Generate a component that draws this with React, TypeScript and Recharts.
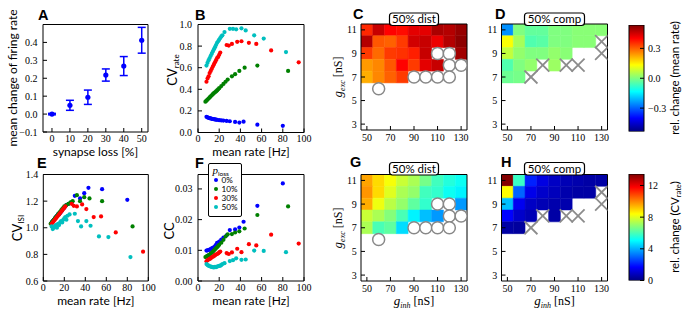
import React from 'react';
import { ComposedChart, Scatter, Bar, XAxis, YAxis, ReferenceArea, ErrorBar, Legend, Label } from 'recharts';

const PAGE_W = 685;
const PAGE_H = 312;

// A: mean change of firing rate vs synapse loss
const synapseLoss = [0, 10, 20, 30, 40, 50];
const rateChange = [0.0, 0.049, 0.094, 0.218, 0.268, 0.412];
const rateChangeErr = [0.004, 0.028, 0.04, 0.034, 0.053, 0.072];

// B, E, F: one point per network, grouped by p_loss
const lossLabels = ['0%', '10%', '30%', '50%'];
const lossColors = ['#0000ff', '#008000', '#ff0000', '#00bfbf'];

const rate0 = [8, 9, 10, 11, 12, 13, 14, 15, 16, 17, 18, 20, 22, 24, 27, 30, 35, 39, 43, 56, 80];
const cvRate0 = [0.145, 0.14, 0.136, 0.133, 0.13, 0.127, 0.125, 0.123, 0.121, 0.119, 0.117, 0.114, 0.112, 0.11, 0.107, 0.104, 0.098, 0.092, 0.1, 0.072, 0.062];
const cvIsi0 = [1.04, 1.05, 1.06, 1.07, 1.08, 1.09, 1.1, 1.1, 1.11, 1.12, 1.13, 1.15, 1.17, 1.18, 1.19, 1.24, 1.22, 1.26, 1.3, 1.29, 1.21];
const cc0 = [0.0099, 0.01, 0.0101, 0.0102, 0.0104, 0.0106, 0.0108, 0.011, 0.0113, 0.0118, 0.0124, 0.0128, 0.0135, 0.0141, 0.0149, 0.0166, 0.0168, 0.0174, 0.0193, 0.0245, 0.0318];

const rate10 = [7, 8, 9, 10, 11, 12, 13, 14, 15, 16, 17, 18, 19, 20, 22, 24, 26, 28, 32, 35, 39, 44, 56, 85];
const cvRate10 = [0.285, 0.295, 0.305, 0.315, 0.325, 0.335, 0.345, 0.355, 0.365, 0.372, 0.38, 0.39, 0.4, 0.41, 0.43, 0.45, 0.47, 0.49, 0.52, 0.54, 0.57, 0.6, 0.62, 0.57];
const cvIsi10 = [1.03, 1.04, 1.05, 1.06, 1.07, 1.08, 1.09, 1.1, 1.11, 1.12, 1.13, 1.14, 1.15, 1.16, 1.17, 1.18, 1.19, 1.2, 1.245, 1.2, 1.23, 1.22, 1.2, 1.01];
const cc10 = [0.0078, 0.008, 0.0082, 0.0084, 0.0086, 0.0089, 0.0092, 0.0095, 0.0099, 0.0103, 0.0107, 0.011, 0.0114, 0.0118, 0.0125, 0.0134, 0.0145, 0.0152, 0.0153, 0.0158, 0.0162, 0.0171, 0.0215, 0.0243];

const rate30 = [8, 9, 10, 11, 12, 13, 14, 15, 16, 17, 18, 19, 20, 21, 27, 29, 32, 37, 41, 48, 55, 69, 95];
const cvRate30 = [0.47, 0.5, 0.52, 0.55, 0.57, 0.59, 0.61, 0.63, 0.65, 0.67, 0.69, 0.7, 0.72, 0.74, 0.81, 0.805, 0.82, 0.84, 0.845, 0.83, 0.82, 0.76, 0.65];
const cvIsi30 = [1.03, 1.04, 1.05, 1.06, 1.07, 1.08, 1.09, 1.1, 1.11, 1.12, 1.13, 1.14, 1.15, 1.16, 1.18, 1.165, 1.16, 1.175, 1.14, 1.08, 1.085, 0.965, 0.82];
const cc30 = [0.0064, 0.0068, 0.007, 0.0072, 0.0074, 0.0077, 0.0079, 0.0081, 0.0084, 0.0086, 0.0088, 0.009, 0.0093, 0.0096, 0.0091, 0.0088, 0.0093, 0.0105, 0.0094, 0.012, 0.0116, 0.0151, 0.0122];

const rate50 = [8, 9, 10, 11, 12, 13, 14, 15, 16, 17, 18, 19, 20, 21, 22, 23, 25, 30, 33, 36, 41, 45, 53, 62, 83];
const cvRate50 = [0.62, 0.645, 0.67, 0.69, 0.71, 0.73, 0.75, 0.77, 0.79, 0.81, 0.83, 0.845, 0.86, 0.875, 0.89, 0.9, 0.93, 0.96, 0.96, 0.955, 0.965, 0.945, 0.9, 0.87, 0.745];
const cvIsi50 = [1.01, 0.99, 1.0, 1.01, 1.02, 1.0, 1.03, 1.02, 1.04, 1.05, 1.04, 1.06, 1.07, 1.08, 1.06, 1.09, 1.1, 1.105, 1.05, 1.01, 1.05, 1.015, 0.935, 0.93, 0.78];
const cc50 = [0.0055, 0.0052, 0.005, 0.0048, 0.0047, 0.0046, 0.0045, 0.0044, 0.0046, 0.0045, 0.0047, 0.0048, 0.0049, 0.005, 0.0052, 0.0055, 0.0058, 0.0065, 0.0068, 0.0074, 0.0069, 0.007, 0.0099, 0.0098, 0.0094];

// C, D, G, H: grids over g_inh (columns) x g_exc (rows)
const gInh = [50, 60, 70, 80, 90, 100, 110, 120, 130];
const gExc = [11, 10, 9, 8, 7];

const distRateChange = [
  [0.36, 0.46, 0.4, 0.39, 0.43, 0.43, 0.49, 0.48, 0.51],
  [0.48, 0.31, 0.3, 0.34, 0.45, 0.46, 0.42, 0.48, 0.52],
  [0.34, 0.29, 0.34, 0.35, 0.37, 0.46, null, null, 0.5],
  [0.24, 0.26, 0.31, 0.4, 0.34, 0.43, 0.46, null, null],
  [0.22, 0.26, 0.3, 0.34, null, null, null, null, null],
];
const compRateChange = [
  [-0.25, 0.0, -0.03, -0.03, 0.0, 0.0, 0.01, 0.01, 0.01],
  [0.13, 0.04, -0.05, -0.04, 0.0, 0.0, 0.01, 0.01, null],
  [0.07, 0.02, 0.0, 0.0, 0.02, 0.01, null, null, null],
  [-0.05, 0.0, 0.02, null, 0.03, null, null, null, null],
  [-0.02, -0.01, null, null, null, null, null, null, null],
];
const distCvChange = [
  [9.6, 8.9, 8.3, 7.7, 7.3, 6.6, 5.9, 5.5, 5.2],
  [9.8, 8.9, 8.0, 7.3, 7.0, 5.9, 5.7, 5.2, 4.9],
  [9.5, 8.2, 7.5, 7.0, 6.3, 5.7, null, null, 3.7],
  [7.7, 7.3, 6.8, 6.0, 4.9, 4.2, 3.7, null, null],
  [7.3, 6.0, 6.3, 4.6, null, null, null, null, null],
];
const compCvChange = [
  [13.4, 5.8, 2.1, 1.3, 0.9, 0.7, 0.6, 0.5, 0.5],
  [8.4, 3.0, 1.4, 1.0, 0.8, 0.6, 0.5, 0.5, null],
  [4.2, 1.5, 0.9, 0.7, 0.6, 0.6, null, null, null],
  [1.7, 1.0, 0.7, null, 0.5, null, null, null, null],
  [0.5, 0.4, null, null, null, null, null, null, null],
];

// markers on empty cells
const distSilentInh = [110, 120, 120, 130, 90, 100, 110, 120, 60];
const distSilentExc = [9, 9, 8, 8, 7, 7, 7, 7, 6];
const compFailInh = [130, 130, 80, 100, 110, 70];
const compFailExc = [10, 9, 8, 8, 8, 7];

// ticks
const lossTicks = [0, 10, 20, 30, 40, 50];
const changeTicks = [-0.1, 0, 0.1, 0.2, 0.3, 0.4];
const rateTicks = [0, 20, 40, 60, 80, 100];
const cvRateTicks = [0, 0.2, 0.4, 0.6, 0.8, 1.0];
const cvIsiTicks = [0.6, 0.8, 1.0, 1.2, 1.4];
const ccTicks = [0, 0.01, 0.02, 0.03];
const gInhTicks = [50, 70, 90, 110, 130];
const gExcTicks = [3, 5, 7, 9, 11];
const rateCbTicks = [-0.3, 0, 0.3];
const cvCbTicks = [0, 4, 8, 12];

const RATE_LIM: [number, number] = [-0.535, 0.535];
const CV_LIM: [number, number] = [0, 13.45];

const SANS = 'Lato, "Open Sans", sans-serif';
const SERIF = '"Liberation Serif", "DejaVu Serif", serif';
const BOLD = '"Liberation Sans", Arial, sans-serif';
const TICK = { fontSize: 10, fill: '#000', fontFamily: SERIF };
const LINE = { stroke: '#000', strokeWidth: 1 };
const Y_W = 40;
const X_H = 24;
const CB_W = 30;

type Rect = { l: number; t: number; r: number; b: number };
const rectA: Rect = { l: 43, t: 24.5, r: 148, b: 132 };
const rectB: Rect = { l: 198, t: 24.5, r: 304, b: 132.5 };
const rectC: Rect = { l: 361, t: 24, r: 467, b: 130 };
const rectD: Rect = { l: 501.5, t: 24, r: 607.5, b: 130 };
const rectE: Rect = { l: 43.3, t: 174.5, r: 148.3, b: 281 };
const rectF: Rect = { l: 198, t: 174.5, r: 304, b: 281 };
const rectG: Rect = { l: 361, t: 174.5, r: 467, b: 281 };
const rectH: Rect = { l: 501.5, t: 174.5, r: 607.5, b: 281 };
const rectCb1: Rect = { l: 629, t: 25, r: 644, b: 131.5 };
const rectCb2: Rect = { l: 629, t: 174, r: 644, b: 280.5 };

const fmt1 = (v: number) => (v < -1e-9 ? '\u2212' : '') + Math.abs(v).toFixed(1);
const fmt2 = (v: number) => v.toFixed(2);

function jet(t: number) {
  const tt = Math.min(1, Math.max(0, t));
  const c = (v: number) => Math.round(255 * Math.min(1, Math.max(0, v)));
  return `rgb(${c(1.5 - Math.abs(4 * tt - 3))},${c(1.5 - Math.abs(4 * tt - 2))},${c(1.5 - Math.abs(4 * tt - 1))})`;
}

const pts = (xs: number[], ys: number[]) => xs.map((x, i) => ({ x, y: ys[i] }));

const lossGroups = [
  { rate: rate0, cvRate: cvRate0, cvIsi: cvIsi0, cc: cc0 },
  { rate: rate10, cvRate: cvRate10, cvIsi: cvIsi10, cc: cc10 },
  { rate: rate30, cvRate: cvRate30, cvIsi: cvIsi30, cc: cc30 },
  { rate: rate50, cvRate: cvRate50, cvIsi: cvIsi50, cc: cc50 },
];

const dotShape = (color: string, r: number) => (p: any) => <circle cx={p.cx} cy={p.cy} r={r} fill={color} />;
const ringShape = (p: any) => <circle cx={p.cx} cy={p.cy} r={6} fill="#fff" stroke="#888" strokeWidth={1.5} />;
const crossShape = (p: any) => (
  <g stroke="#8c8c8c" strokeWidth={1.8}>
    <line x1={p.cx - 6.5} y1={p.cy - 6.5} x2={p.cx + 6.5} y2={p.cy + 6.5} />
    <line x1={p.cx - 6.5} y1={p.cy + 6.5} x2={p.cx + 6.5} y2={p.cy - 6.5} />
  </g>
);

// text helpers
const letter = (x: number, y: number, s: string) => (
  <text x={x} y={y} fontFamily={BOLD} fontWeight="bold" fontSize={14.5}>{s}</text>
);
const hTitle = (cx: number, y: number, content: React.ReactNode) => (
  <text x={cx} y={y} textAnchor="middle" fontFamily={SANS} fontSize={12}>{content}</text>
);
const vTitle = (bx: number, cy: number, content: React.ReactNode, size = 12) => (
  <text transform={`rotate(-90 ${bx} ${cy})`} x={bx} y={cy} textAnchor="middle" fontFamily={SANS} fontSize={size}>{content}</text>
);
const tag = (cx: number, top: number, w: number, s: string) => (
  <g>
    <rect x={cx - w / 2} y={top} width={w} height={12.5} rx={3} fill="#fff" stroke="#000" strokeWidth={1.2} />
    <text x={cx} y={top + 10} textAnchor="middle" fontFamily={SANS} fontSize={11.5}>{s}</text>
  </g>
);
const gTitle = (sub: string) => (
  <>
    <tspan fontFamily={SERIF} fontStyle="italic" fontSize={13}>g</tspan>
    <tspan fontFamily={SERIF} fontStyle="italic" fontSize={8} dy={2.5}>{sub}</tspan>
    <tspan fontFamily={SERIF} fontSize={12} dy={-2.5}> [nS]</tspan>
  </>
);

type PanelProps = {
  rect: Rect;
  xDomain: [number, number];
  yDomain: [number, number];
  xTicks: number[];
  yTicks: number[];
  xFmt?: (v: number) => string;
  yFmt?: (v: number) => string;
  xGap: number;
  yGap: number;
  overlay: React.ReactNode;
  legend?: React.ReactNode;
  children: React.ReactNode;
};

function Panel(p: PanelProps) {
  const { rect } = p;
  return (
    <div style={{ position: 'absolute', left: 0, top: 0 }}>
      <ComposedChart
        width={PAGE_W}
        height={PAGE_H}
        margin={{ left: rect.l - Y_W, top: rect.t, right: PAGE_W - rect.r, bottom: PAGE_H - rect.b - X_H }}
      >
        <XAxis xAxisId="b" dataKey="x" type="number" domain={p.xDomain} ticks={p.xTicks} allowDataOverflow interval={0}
          height={X_H} tickSize={-4} tickMargin={4 + p.xGap} tick={TICK} tickFormatter={p.xFmt} axisLine={LINE} tickLine={LINE} />
        <XAxis xAxisId="t" orientation="top" mirror type="number" domain={p.xDomain} ticks={p.xTicks} allowDataOverflow
          interval={0} tickSize={4} tick={false} axisLine={LINE} tickLine={LINE}>
          <Label content={() => <g>{p.overlay}</g>} />
        </XAxis>
        <YAxis yAxisId="l" dataKey="y" type="number" domain={p.yDomain} ticks={p.yTicks} allowDataOverflow interval={0}
          width={Y_W} tickSize={-4} tickMargin={4 + p.yGap} tick={TICK} tickFormatter={p.yFmt} axisLine={LINE} tickLine={LINE} />
        <YAxis yAxisId="r" orientation="right" mirror type="number" domain={p.yDomain} ticks={p.yTicks} allowDataOverflow
          interval={0} tickSize={4} tick={false} axisLine={LINE} tickLine={LINE} />
        {p.children}
        {p.legend}
      </ComposedChart>
    </div>
  );
}

function heatCells(values: (number | null)[][], lim: [number, number]) {
  return values.flatMap((row, ri) =>
    row.map((v, ci) => {
      if (v == null) return null;
      const col = jet((v - lim[0]) / (lim[1] - lim[0]));
      return (
        <ReferenceArea key={`${ri}-${ci}`} xAxisId="b" yAxisId="l" x1={gInh[ci] - 5} x2={gInh[ci] + 5}
          y1={gExc[ri] - 0.5} y2={gExc[ri] + 0.5} fill={col} fillOpacity={1} stroke={col} strokeWidth={0.5} ifOverflow="hidden" />
      );
    })
  );
}

function ColorBar({ rect, lim, ticks, fmt, id, title }: { rect: Rect; lim: [number, number]; ticks: number[]; fmt?: (v: number) => string; id: string; title: React.ReactNode }) {
  const stops = [0, 0.125, 0.375, 0.625, 0.875, 1];
  const barData = [{ name: id, range: lim }];
  return (
    <div style={{ position: 'absolute', left: 0, top: 0 }}>
      <ComposedChart width={PAGE_W} height={PAGE_H} data={barData} barCategoryGap={0}
        margin={{ left: rect.l, top: rect.t, right: PAGE_W - rect.r - CB_W, bottom: PAGE_H - rect.b }}>
        <XAxis xAxisId="c" dataKey="name" type="category" mirror tick={false} tickLine={false} axisLine={false} />
        <YAxis yAxisId="c" orientation="right" type="number" domain={lim} ticks={ticks} allowDataOverflow interval={0}
          width={CB_W} tickSize={-4} tickMargin={8} tick={TICK} tickFormatter={fmt} axisLine={false} tickLine={LINE}>
          <Label content={() => <g>{title}</g>} />
        </YAxis>
        <Bar xAxisId="c" yAxisId="c" dataKey="range" isAnimationActive={false}
          shape={(s: any) => (
            <g>
              <defs>
                <linearGradient id={id} x1="0" y1="1" x2="0" y2="0">
                  {stops.map((t) => <stop key={t} offset={t} stopColor={jet(t)} />)}
                </linearGradient>
              </defs>
              <rect x={s.x} y={s.y} width={s.width} height={s.height} fill={`url(#${id})`} stroke="#000" strokeWidth={1} />
            </g>
          )} />
      </ComposedChart>
    </div>
  );
}

function LossLegend(props: any) {
  const payload = props.payload ?? [];
  return (
    <div style={{ position: 'relative', width: 34, height: 54, boxSizing: 'border-box', border: '1.3px solid #000', borderRadius: 2, background: '#fff', fontFamily: SANS, fontSize: 8.2, color: '#000' }}>
      <div style={{ position: 'absolute', left: 3.5, top: 0.5, height: 11, lineHeight: '11px', whiteSpace: 'nowrap' }}>
        <span style={{ fontFamily: SERIF, fontStyle: 'italic', fontSize: 11 }}>p</span>
        <span style={{ fontSize: 6.5, position: 'relative', top: 2 }}>loss</span>
      </div>
      {payload.map((e: any, i: number) => (
        <div key={e.value} style={{ position: 'absolute', left: 4.5, top: 12 + i * 8.9, height: 8.9, display: 'flex', alignItems: 'center', lineHeight: '8.9px', whiteSpace: 'nowrap' }}>
          <span style={{ display: 'inline-block', width: 4, height: 4, borderRadius: 2, background: e.color, marginRight: 4 }} />
          <span>{e.value}</span>
        </div>
      ))}
    </div>
  );
}

export default function App() {
  const aData = synapseLoss.map((x, i) => ({ x, y: rateChange[i], err: rateChangeErr[i] }));
  const lossScatter = (key: 'cvRate' | 'cvIsi' | 'cc') =>
    lossGroups.map((g, i) => (
      <Scatter key={i} name={lossLabels[i]} xAxisId="b" yAxisId="l" data={pts(g.rate, g[key])} fill={lossColors[i]}
        shape={dotShape(lossColors[i], 2.1)} isAnimationActive={false} />
    ));
  const rings = (
    <Scatter xAxisId="b" yAxisId="l" data={pts(distSilentInh, distSilentExc)} fill="#fff" shape={ringShape} isAnimationActive={false} />
  );
  const crosses = (
    <Scatter xAxisId="b" yAxisId="l" data={pts(compFailInh, compFailExc)} fill="#888" shape={crossShape} isAnimationActive={false} />
  );
  const heat = { xDomain: [45, 135] as [number, number], yDomain: [2.5, 11.5] as [number, number], xTicks: gInhTicks, yTicks: gExcTicks, xGap: 3.5, yGap: 4.3 };

  return (
    <div style={{ position: 'absolute', left: 0, top: 0, width: PAGE_W, height: PAGE_H, background: '#fff' }}>
      <Panel rect={rectA} xDomain={[-5, 53.5]} yDomain={[-0.1, 0.5]} xTicks={lossTicks} yTicks={changeTicks} yFmt={fmt1} xGap={3} yGap={5.5}
        overlay={<>{letter(38, 20, 'A')}{vTitle(16.5, 78, 'mean change of firing rate')}{hTitle(95.5, 155.5, 'synapse loss [%]')}</>}>
        <Scatter xAxisId="b" yAxisId="l" data={aData} fill="#0000ff" shape={dotShape('#0000ff', 2.6)} isAnimationActive={false}>
          <ErrorBar dataKey="err" direction="y" width={4} stroke="#0000ff" strokeWidth={1.5} isAnimationActive={false} />
        </Scatter>
      </Panel>

      <Panel rect={rectB} xDomain={[0, 100]} yDomain={[0, 1]} xTicks={rateTicks} yTicks={cvRateTicks} yFmt={fmt1} xGap={2.5} yGap={6}
        overlay={<>{letter(195, 20, 'B')}{vTitle(177, 70, <>CV<tspan fontSize={8} dy={2}>rate</tspan></>, 13)}{hTitle(251, 155.5, 'mean rate [Hz]')}</>}>
        {lossScatter('cvRate')}
      </Panel>

      <Panel rect={rectC} {...heat}
        overlay={<>{letter(353, 19, 'C')}{tag(414, 13, 49, '50% dist')}{vTitle(342, 77, gTitle('exc'))}</>}>
        {heatCells(distRateChange, RATE_LIM)}
        {rings}
      </Panel>

      <Panel rect={rectD} {...heat}
        overlay={<>{letter(495, 19, 'D')}{tag(554.5, 13, 60, '50% comp')}</>}>
        {heatCells(compRateChange, RATE_LIM)}
        {crosses}
      </Panel>

      <Panel rect={rectE} xDomain={[0, 100]} yDomain={[0.6, 1.4]} xTicks={rateTicks} yTicks={cvIsiTicks} yFmt={fmt1} xGap={3} yGap={5}
        overlay={<>{letter(37, 168, 'E')}{vTitle(22, 228, <>CV<tspan fontSize={8} dy={2}>ISI</tspan></>, 13)}{hTitle(95.8, 305, 'mean rate [Hz]')}</>}>
        {lossScatter('cvIsi')}
      </Panel>

      <Panel rect={rectF} xDomain={[0, 100]} yDomain={[0, 0.0347]} xTicks={rateTicks} yTicks={ccTicks} yFmt={fmt2} xGap={3} yGap={5.5}
        overlay={<>{letter(195, 168, 'F')}{vTitle(173.5, 231, 'CC', 13)}{hTitle(251, 305, 'mean rate [Hz]')}</>}
        legend={<Legend layout="vertical" align="center" verticalAlign="middle" content={LossLegend}
          wrapperStyle={{ position: 'absolute', left: 208, top: 163, width: 34, height: 54 }} />}>
        {lossScatter('cc')}
      </Panel>

      <Panel rect={rectG} {...heat}
        overlay={<>{letter(350, 167, 'G')}{tag(414, 162.5, 49, '50% dist')}{vTitle(342, 228, gTitle('exc'))}{hTitle(414, 305, gTitle('inh'))}</>}>
        {heatCells(distCvChange, CV_LIM)}
        {rings}
      </Panel>

      <Panel rect={rectH} {...heat}
        overlay={<>{letter(501, 167, 'H')}{tag(554.5, 162.5, 60, '50% comp')}{hTitle(554.5, 305, gTitle('inh'))}</>}>
        {heatCells(compCvChange, CV_LIM)}
        {crosses}
      </Panel>

      <ColorBar rect={rectCb1} lim={RATE_LIM} ticks={rateCbTicks} fmt={fmt1} id="jetRate"
        title={vTitle(679, 78, 'rel. change (mean rate)', 11.5)} />
      <ColorBar rect={rectCb2} lim={CV_LIM} ticks={cvCbTicks} id="jetCv"
        title={vTitle(679, 227, <>rel. change (CV<tspan fontSize={7.5} dy={2}>rate</tspan><tspan dy={-2}>)</tspan></>, 11.5)} />
    </div>
  );
}
